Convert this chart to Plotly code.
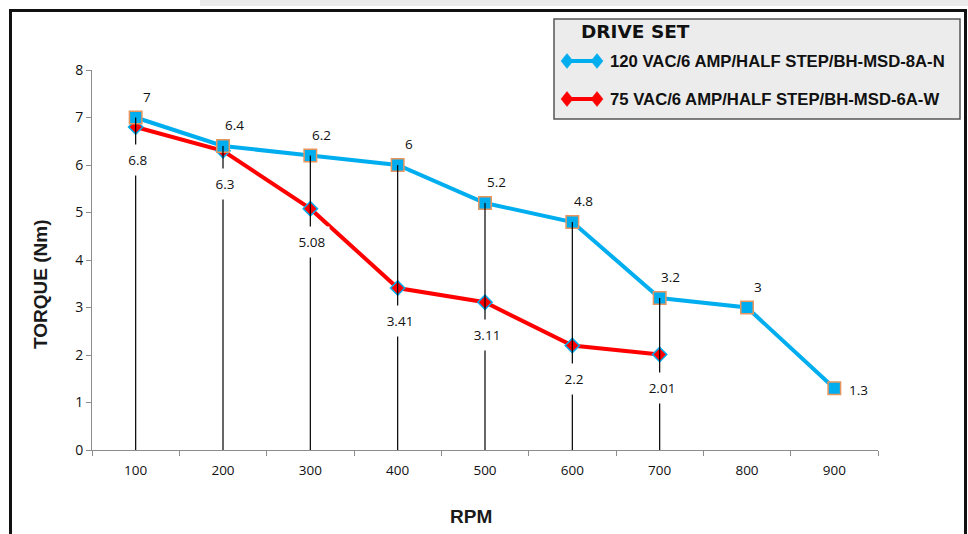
import plotly.graph_objects as go

rpm = ["100", "200", "300", "400", "500", "600", "700", "800", "900"]
torque_120 = [7, 6.4, 6.2, 6, 5.2, 4.8, 3.2, 3, 1.3]
torque_75 = [6.8, 6.3, 5.08, 3.41, 3.11, 2.2, 2.01]
y_ticks = [0, 1, 2, 3, 4, 5, 6, 7, 8]
name_120 = "120 VAC/6 AMP/HALF STEP/BH-MSD-8A-N"
name_75 = "75 VAC/6 AMP/HALF STEP/BH-MSD-6A-W"
legend_title = "DRIVE SET"

OFF = 0  # body margin removed by post_script
W, H = 968, 534
# plot area in page pixels
PL, PR, PT, PB = 92, 878, 70, 450
L, R, T, B = PL - OFF, PR - OFF, PT - OFF, PB - OFF

BLUE = "#00AEEF"
RED = "#FF0000"
ORANGE = "#E8965E"
FONT_LBL = "Open Sans, Noto Sans, sans-serif"
FONT_BOLD = "Liberation Sans, Arial, sans-serif"


def px(x):
    return (x - OFF - L) / (R - L)


def py(y):
    return (B - (y - OFF)) / (B - T)


fig = go.Figure()

fig.add_trace(go.Scatter(
    x=rpm[:len(torque_75)], y=torque_75, mode="lines+markers", name=name_75,
    line=dict(color=RED, width=4),
    marker=dict(symbol="diamond", size=11, color=RED, line=dict(color=BLUE, width=1.5)),
    showlegend=False, hoverinfo="x+y"))

fig.add_trace(go.Scatter(
    x=rpm, y=torque_120, mode="lines+markers", name=name_120,
    line=dict(color=BLUE, width=4),
    marker=dict(symbol="square", size=12.5, color=BLUE, line=dict(color=ORANGE, width=1.5)),
    showlegend=False, hoverinfo="x+y"))

# drop lines (from 0 to the upper series) where both series exist
dx, dy = [], []
for i in range(len(torque_75)):
    top = max(torque_120[i], torque_75[i])
    dx += [rpm[i], rpm[i], None]
    dy += [0, top, None]
fig.add_trace(go.Scatter(x=dx, y=dy, mode="lines", line=dict(color="black", width=1.2),
                         showlegend=False, hoverinfo="skip"))

annotations = []
label_font = dict(family=FONT_LBL, size=13.5, color="#111")
for i, v in enumerate(torque_120):
    if i == len(rpm) - 1:
        xs, ys = 24, -2
    else:
        xs, ys = 11, 21
    annotations.append(dict(x=i, y=v, xref="x", yref="y", text=f"{v:g}", showarrow=False,
                            xshift=xs, yshift=ys, font=label_font))
for i, v in enumerate(torque_75):
    annotations.append(dict(x=i, y=v, xref="x", yref="y", text=f"{v:g}", showarrow=False,
                            xshift=2, yshift=-33, font=label_font,
                            bgcolor="white", borderpad=0, width=34, height=30))

# axis titles
annotations.append(dict(x=px(40), y=py(285), xref="paper", yref="paper", text="<b>TORQUE (Nm)</b>",
                        textangle=-90, showarrow=False, xanchor="center", yanchor="middle",
                        font=dict(family=FONT_BOLD, size=19, color="#1a1a1a")))
annotations.append(dict(x=px(471), y=py(516), xref="paper", yref="paper", text="<b>RPM</b>",
                        showarrow=False, xanchor="center", yanchor="middle",
                        font=dict(family=FONT_BOLD, size=19, color="#1a1a1a")))

# legend texts
annotations.append(dict(x=px(579), y=py(31), xref="paper", yref="paper", text="<b>" + legend_title + "</b>",
                        showarrow=False, xanchor="left", yanchor="middle",
                        font=dict(family="DejaVu Sans, Arial, sans-serif", size=18.5, color="#111")))
annotations.append(dict(x=px(608), y=py(61), xref="paper", yref="paper", text="<b>" + name_120 + "</b>",
                        showarrow=False, xanchor="left", yanchor="middle",
                        font=dict(family=FONT_BOLD, size=16.7, color="#111")))
annotations.append(dict(x=px(608), y=py(99), xref="paper", yref="paper", text="<b>" + name_75 + "</b>",
                        showarrow=False, xanchor="left", yanchor="middle",
                        font=dict(family=FONT_BOLD, size=16.7, color="#111")))

shapes = []
# top gray band
shapes.append(dict(type="rect", xref="paper", yref="paper", x0=px(200), x1=px(968), y0=py(0), y1=py(6),
                   fillcolor="#ebebeb", line=dict(width=0), layer="below"))
# outer frame
shapes.append(dict(type="rect", xref="paper", yref="paper", x0=px(10.5), x1=px(965.5), y0=py(10.5), y1=py(560),
                   fillcolor="rgba(0,0,0,0)", line=dict(color="#111", width=3), layer="below"))
# legend box
shapes.append(dict(type="rect", xref="paper", yref="paper", x0=px(554), x1=px(960), y0=py(19), y1=py(119),
                   fillcolor="#ececec", line=dict(color="#555", width=1.5), layer="below"))


def diamond(cx, cy, hw, hh, color):
    path = (f"M {px(cx - hw)},{py(cy)} L {px(cx)},{py(cy - hh)} L {px(cx + hw)},{py(cy)} "
            f"L {px(cx)},{py(cy + hh)} Z")
    return dict(type="path", xref="paper", yref="paper", path=path, fillcolor=color,
                line=dict(color=color, width=0.5))


for yy, col in [(61, BLUE), (99, RED)]:
    shapes.append(dict(type="line", xref="paper", yref="paper", x0=px(566), x1=px(598), y0=py(yy), y1=py(yy),
                       line=dict(color=col, width=4)))
    shapes.append(diamond(567, yy, 6, 7.5, col))
    shapes.append(diamond(597, yy, 6, 7.5, col))

fig.update_layout(
    width=W, height=H,
    margin=dict(l=L, r=W - R, t=T, b=H - B),
    paper_bgcolor="white", plot_bgcolor="white",
    showlegend=False,
    annotations=annotations, shapes=shapes,
    xaxis=dict(type="category", categoryorder="array", categoryarray=rpm,
               range=[-0.5, len(rpm) - 0.5], tickson="boundaries",
               ticks="outside", ticklen=5, tickcolor="#8c8c8c", ticklabelstandoff=8,
               showline=True, linecolor="#8c8c8c", linewidth=1, showgrid=False, zeroline=False,
               tickfont=dict(family=FONT_LBL, size=13.5, color="#111")),
    yaxis=dict(range=[0, 8], tickvals=y_ticks, ticks="outside", ticklen=5, tickcolor="#8c8c8c",
               showline=True, linecolor="#8c8c8c", linewidth=1, showgrid=False, zeroline=False,
               tickfont=dict(family=FONT_LBL, size=14, color="#111")),
)

fig.write_html("out.html", config={"displayModeBar": False},
               post_script="document.body.style.margin='0';document.body.style.overflow='hidden';")
